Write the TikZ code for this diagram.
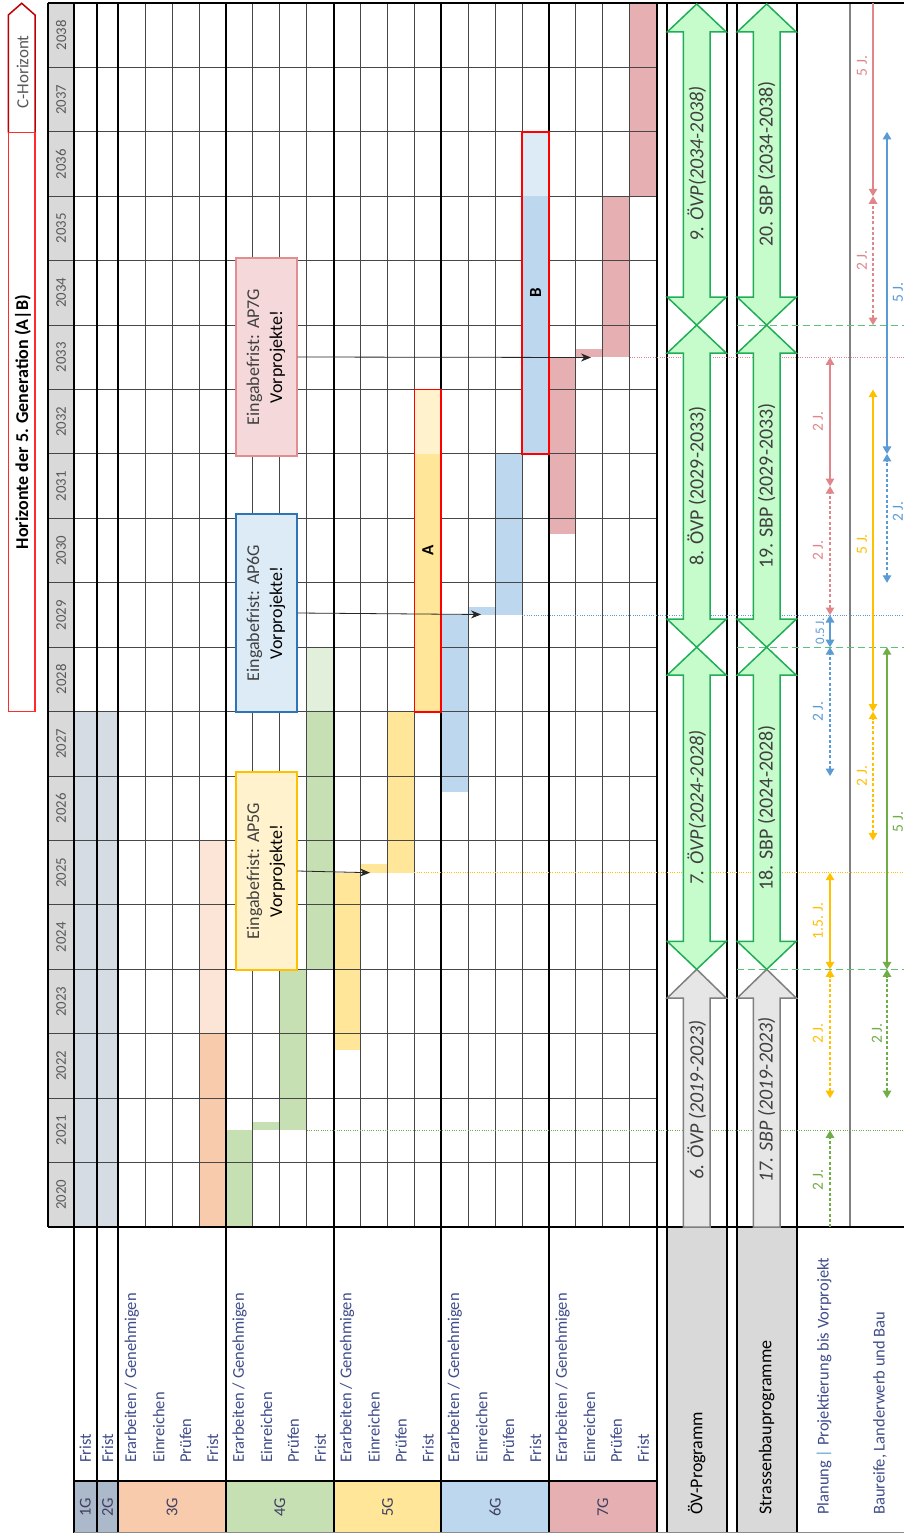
\documentclass[tikz,border=0pt]{standalone}
\usepackage{fontspec}
\setmainfont{Carlito}
\usetikzlibrary{arrows.meta}
\definecolor{yearfill}{HTML}{D9D9D9}
\definecolor{gHdr}{HTML}{ACB9CA}
\definecolor{gShade}{HTML}{D6DCE4}
\definecolor{orD}{HTML}{F8CBAD}
\definecolor{orL}{HTML}{FCE4D6}
\definecolor{grD}{HTML}{C6E0B4}
\definecolor{grL}{HTML}{E2EFDA}
\definecolor{yeD}{HTML}{FFE699}
\definecolor{yeL}{HTML}{FFF2CC}
\definecolor{blD}{HTML}{BDD7EE}
\definecolor{blL}{HTML}{DDEBF7}
\definecolor{piD}{HTML}{E6B0B3}
\definecolor{piBox}{HTML}{F5D8DA}
\definecolor{piBorder}{HTML}{E08E92}
\definecolor{apBlue}{HTML}{2E75B6}
\definecolor{progG}{HTML}{C6FBCB}
\definecolor{progGb}{HTML}{1FAE55}
\definecolor{progGray}{HTML}{E7E6E6}
\definecolor{progGrayb}{HTML}{7F7F7F}
\definecolor{lnP}{HTML}{E0868A}
\definecolor{lnB}{HTML}{5B9BD5}
\definecolor{lnY}{HTML}{FFC000}
\definecolor{lnG}{HTML}{70AD47}
\definecolor{gdash}{HTML}{5CC276}
\definecolor{rowtxt}{HTML}{3F4C8A}
\definecolor{gentxt}{HTML}{404060}
\definecolor{titlered}{HTML}{FF2A2A}
\definecolor{credd}{HTML}{C00000}
\definecolor{yeartxt}{HTML}{595959}

\newcommand{\ganttbar}[4]{\fill[#4] ({rx(#1)},{ty(#3)}) rectangle ({rx(#1+1)},{ty(#2)});}
\newcommand{\progarrow}[4]{%
  \filldraw[#4] (#1,#2) -- ++(29.5,-28) -- ++(-16.2,0) -- (#1+13.3,#3+28) -- ++(16.2,0) -- (#1,#3)
   -- ++(-29.5,28) -- ++(16.2,0) -- (#1-13.3,#2-28) -- ++(-16.2,0) -- cycle;}
\newcommand{\grayarrow}[1]{%
  \filldraw[fill=progGray, draw=progGrayb, line width=1.5pt] (#1-13.3,1227) -- (#1-13.3,998) -- (#1-29.5,998)
   -- (#1,969.3) -- (#1+29.5,998) -- (#1+13.3,998) -- (#1+13.3,1227) -- cycle;}
\newcommand{\grouplabels}[2]{%
  \node[rowlbl] (r#2a) at ({rx(#1)+13.46},1463) {Erarbeiten / Genehmigen};
  \node[rowlbl] (r#2b) at ({rx(#1+1)+13.46},1463) {Einreichen};
  \node[rowlbl] (r#2c) at ({rx(#1+2)+13.46},1463) {Prüfen};
  \node[rowlbl] (r#2d) at ({rx(#1+3)+13.46},1463) {Frist};}

\begin{document}
\begin{tikzpicture}[x=1pt,y=-1pt,
  declare function={ty(\yy)=1227-(\yy-2020)*64.42; rx(\ii)=118.3+\ii*26.92;},
  gthin/.style={draw=black!72, line width=0.95pt},
  gthick/.style={draw=black, line width=1.7pt},
  rowlbl/.style={rotate=90, anchor=west, inner sep=0pt, text=rowtxt, font=\fontsize{16.5}{18}\selectfont},
  genlbl/.style={rotate=90, inner sep=0pt, text=gentxt, font=\fontsize{16.5}{18}\selectfont},
  yearlbl/.style={rotate=90, inner sep=0pt, text=yeartxt, font=\fontsize{14.8}{16}\selectfont},
  collbl/.style={rotate=90, anchor=west, inner sep=0pt, font=\fontsize{18}{20}\selectfont},
  progtxt/.style={rotate=90, inner sep=0pt, text=black!75, font=\fontsize{20}{22}\selectfont},
  apbox/.style={rotate=90, minimum width=198pt, minimum height=61pt, line width=2pt, align=center,
     inner sep=0pt, text=black!75, font=\fontsize{18}{23}\selectfont},
  aparr/.style={draw=black!85, line width=0.8pt, -{Stealth[length=10pt,width=8pt]}},
  boxlbl/.style={rotate=90, inner sep=0pt, font=\bfseries\fontsize{17}{18}\selectfont},
  dotln/.style={line width=1pt, dash pattern=on 1pt off 1.3pt},
  gdashln/.style={draw=gdash, line width=1.2pt, dash pattern=on 7pt off 4pt},
  dimln/.style={line width=1.2pt},
  dsh/.style={dash pattern=on 3pt off 2.2pt},
  bothtips/.style={{Triangle[width=8.5pt,length=7.5pt]}-{Triangle[width=8.5pt,length=7.5pt]}},
  dimlbl/.style={rotate=90, inner sep=0pt, font=\fontsize{15.5}{17}\selectfont}
]
\useasboundingbox (0,0) rectangle (904,1533);
\fill[white] (0,0) rectangle (904,1533);

% ---------- fills ----------
\fill[yearfill] (47.7,3) rectangle (74,1227);
\fill[gShade] (74,{ty(2028)}) rectangle (118.3,1227);
\fill[gHdr] (74,1481) rectangle (118.3,1533);
\fill[orD] ({rx(0)},1481) rectangle ({rx(4)},1533);
\fill[grD] ({rx(4)},1481) rectangle ({rx(8)},1533);
\fill[yeD] ({rx(8)},1481) rectangle ({rx(12)},1533);
\fill[blD] ({rx(12)},1481) rectangle ({rx(16)},1533);
\fill[piD] ({rx(16)},1481) rectangle ({rx(20)},1533);
\fill[yearfill] (666.7,1227) rectangle (726.7,1533);
\fill[yearfill] (736.7,1227) rectangle (796.7,1533);

% 3G
\ganttbar{3}{2020}{2023}{orD}
\ganttbar{3}{2023}{2026}{orL}
% 4G
\ganttbar{4}{2020}{2021.5}{grD}
\ganttbar{5}{2021.5}{2021.63}{grD}
\ganttbar{6}{2021.5}{2024}{grD}
\ganttbar{7}{2024}{2028}{grD}
\ganttbar{7}{2028}{2029}{grL}
% 5G
\ganttbar{8}{2022.75}{2025.5}{yeD}
\ganttbar{9}{2025.5}{2025.63}{yeD}
\ganttbar{10}{2025.5}{2028}{yeD}
% 6G
\ganttbar{12}{2026.75}{2029.5}{blD}
\ganttbar{13}{2029.5}{2029.63}{blD}
\ganttbar{14}{2029.5}{2032}{blD}
% 7G
\ganttbar{16}{2030.75}{2033.5}{piD}
\ganttbar{17}{2033.5}{2033.63}{piD}
\ganttbar{18}{2033.5}{2036}{piD}
\ganttbar{19}{2036}{2039}{piD}

% ---------- grid ----------
\foreach \yr in {2021,...,2038} \draw[gthin] (47.7,{ty(\yr)}) -- (656.7,{ty(\yr)});
\foreach \i in {1,2,3,5,6,7,9,10,11,13,14,15,17,18,19} \draw[gthin] ({rx(\i)},3) -- ({rx(\i)},1227);
\foreach \i in {0,4,...,20} \draw[gthick] ({rx(\i)},3) -- ({rx(\i)},1533);
\draw[gthick] (47.7,3) -- (47.7,1227);
\draw[gthick] (74,3) -- (74,1533);
\draw[gthick] (96.7,3) -- (96.7,1533);
\foreach \xx in {666.7,726.7,736.7,796.7} \draw[gthick] (\xx,3) -- (\xx,1533);
\draw[draw=black!50, line width=1.5pt] (850,3) -- (850,1227);
\draw[gthick] (47.7,3) -- (904,3);
\draw[gthick] (47.7,1227) -- (904,1227);
\draw[gthick] (74,1481) -- (656.7,1481);
\draw[draw=black!45, line width=0.8pt] (74,1532.5) -- (904,1532.5);

% ---------- A / B boxes ----------
\fill[yeD] ({rx(11)},{ty(2032)}) rectangle ({rx(12)},{ty(2028)});
\fill[yeL] ({rx(11)},{ty(2033)}) rectangle ({rx(12)},{ty(2032)});
\draw[red, line width=1.8pt] ({rx(11)},{ty(2033)}) rectangle ({rx(12)},{ty(2028)});
\node[boxlbl] (lblA) at ({rx(11)+13.46},{ty(2030.5)}) {A};
\fill[blD] ({rx(15)},{ty(2036)}) rectangle ({rx(16)},{ty(2032)});
\fill[blL] ({rx(15)},{ty(2037)}) rectangle ({rx(16)},{ty(2036)});
\draw[red, line width=1.8pt] ({rx(15)},{ty(2037)}) rectangle ({rx(16)},{ty(2032)});
\node[boxlbl] (lblB) at ({rx(15)+13.46},{ty(2034.5)}) {B};

% ---------- dotted milestone lines ----------
\draw[dotln, lnG] ({rx(7)},{ty(2021.5)}) -- (904,{ty(2021.5)});
\draw[dotln, lnY] ({rx(11)},{ty(2025.5)}) -- (904,{ty(2025.5)});
\draw[dotln, lnB] ({rx(15)},{ty(2029.5)}) -- (904,{ty(2029.5)});
\draw[dotln, lnP] ({rx(19)},{ty(2033.5)}) -- (904,{ty(2033.5)});
\foreach \t in {2024,2029,2034} \draw[gdashln] (736.7,{ty(\t)}) -- (904,{ty(\t)});

% ---------- AP boxes ----------
\node[apbox, fill=yeL, draw=lnY] (ap5) at (266,871) {Eingabefrist: AP5G\\\textcolor{black}{Vorprojekte!}};
\node[apbox, fill=blL, draw=apBlue] (ap6) at (266,613) {Eingabefrist: AP6G\\\textcolor{black}{Vorprojekte!}};
\node[apbox, fill=piBox, draw=piBorder] (ap7) at (266,357) {Eingabefrist: AP7G\\\textcolor{black}{Vorprojekte!}};
\coordinate (t5) at (370,872.7);
\coordinate (t6) at (481,614.5);
\coordinate (t7) at (591,357.5);
\draw[aparr] (ap5.south) -- (t5);
\draw[aparr] (ap6.south) -- (t6);
\draw[aparr] (ap7.south) -- (t7);

% ---------- programme arrows ----------
\grayarrow{696.7}
\grayarrow{766.7}
\progarrow{696.7}{969.3}{647.2}{fill=progG, draw=progGb, line width=1.5pt}
\progarrow{696.7}{647.2}{325.1}{fill=progG, draw=progGb, line width=1.5pt}
\progarrow{696.7}{325.1}{4}{fill=progG, draw=progGb, line width=1.5pt}
\progarrow{766.7}{969.3}{647.2}{fill=progG, draw=progGb, line width=1.5pt}
\progarrow{766.7}{647.2}{325.1}{fill=progG, draw=progGb, line width=1.5pt}
\progarrow{766.7}{325.1}{4}{fill=progG, draw=progGb, line width=1.5pt}
\node[progtxt, font=\itshape\fontsize{20}{22}\selectfont] (p6) at (696.7,1100) {6. ÖVP (2019-2023)};
\node[progtxt, font=\itshape\fontsize{20}{22}\selectfont] (p17) at (766.7,1100) {17. SBP (2019-2023)};
\node[progtxt, font=\itshape\fontsize{20}{22}\selectfont] (p7) at (696.7,808) {7. ÖVP(2024-2028)};
\node[progtxt] (p18) at (766.7,808) {18. SBP (2024-2028)};
\node[progtxt] (p8) at (696.7,486) {8. ÖVP (2029-2033)};
\node[progtxt] (p19) at (766.7,486) {19. SBP (2029-2033)};
\node[progtxt, font=\itshape\fontsize{20}{22}\selectfont] (p9) at (696.7,164) {9. ÖVP(2034-2038)};
\node[progtxt] (p20) at (766.7,164) {20. SBP (2034-2038)};

% ---------- duration arrows: Planung ----------
\draw[dimln, lnG, dsh, -{Triangle[width=8.5pt,length=7.5pt]}] (830,1227) -- (830,{ty(2021.5)});
\node[dimlbl, text=lnG] (d1) at (818,1180) {2 J.};
\draw[dimln, lnY, dsh, bothtips] (830,{ty(2022)}) -- (830,{ty(2024)});
\node[dimlbl, text=lnY] (d2) at (818,{ty(2023)}) {2 J.};
\draw[dimln, lnY, bothtips] (830,{ty(2024)}) -- (830,{ty(2025.5)});
\node[dimlbl, text=lnY] (d3) at (818,{ty(2024.75)}) {1.5. J.};
\draw[dimln, lnB, dsh, bothtips] (830,{ty(2027)}) -- (830,{ty(2029)});
\node[dimlbl, text=lnB] (d4) at (818,{ty(2028)}) {2 J.};
\draw[dimln, lnB, bothtips] (830,{ty(2029)}) -- (830,{ty(2029.5)});
\node[dimlbl, text=lnB, font=\fontsize{13}{14}\selectfont] (d5) at (820,{ty(2029.25)}) {0.5 J.};
\draw[dimln, lnP, dsh, bothtips] (830,{ty(2029.5)}) -- (830,{ty(2031.5)});
\node[dimlbl, text=lnP] (d6) at (818,{ty(2030.5)}) {2 J.};
\draw[dimln, lnP, bothtips] (830,{ty(2031.5)}) -- (830,{ty(2033.5)});
\node[dimlbl, text=lnP] (d7) at (818,{ty(2032.5)}) {2 J.};

% ---------- duration arrows: Baureife ----------
\draw[dimln, lnY, dsh, bothtips] (873,{ty(2026)}) -- (873,{ty(2028)});
\node[dimlbl, text=lnY] (e1) at (862,{ty(2027)}) {2 J.};
\draw[dimln, lnY, bothtips] (873,{ty(2028)}) -- (873,{ty(2033)});
\node[dimlbl, text=lnY] (e2) at (862,{ty(2030.6)}) {5 J.};
\draw[dimln, lnP, dsh, bothtips] (873,{ty(2034)}) -- (873,{ty(2036)});
\node[dimlbl, text=lnP] (e3) at (862,{ty(2035)}) {2 J.};
\draw[dimln, lnP, {Triangle[width=8.5pt,length=7.5pt]}-] (873,{ty(2036)}) -- (873,3);
\node[dimlbl, text=lnP] (e4) at (862,66) {5 J.};
\draw[dimln, lnG, dsh, bothtips] (887,{ty(2022)}) -- (887,{ty(2024)});
\node[dimlbl, text=lnG] (e5) at (877,{ty(2023)}) {2 J.};
\draw[dimln, lnG, bothtips] (887,{ty(2024)}) -- (887,{ty(2029)});
\node[dimlbl, text=lnG] (e6) at (898,822) {5 J.};
\draw[dimln, lnB, dsh, bothtips] (887,{ty(2030)}) -- (887,{ty(2032)});
\node[dimlbl, text=lnB] (e7) at (898,{ty(2031.1)}) {2 J.};
\draw[dimln, lnB, bothtips] (887,{ty(2032)}) -- (887,{ty(2037)});
\node[dimlbl, text=lnB] (e8) at (898,{ty(2034.5)}) {5 J.};

% ---------- title boxes ----------
\draw[credd, line width=1.5pt, fill=white] (8.3,132.7) -- (8.3,15) -- (21.7,3.3) -- (35,15) -- (35,132.7);
\draw[titlered, line width=1.5pt] (8.3,132.7) rectangle (35,711.7);
\node[rotate=90, inner sep=0pt, font=\bfseries\fontsize{18}{20}\selectfont] (title) at (23,422) {Horizonte der 5. Generation (A|B)};
\node[rotate=90, inner sep=0pt, text=yeartxt, font=\fontsize{17}{19}\selectfont] (chor) at (22.5,72) {C-Horizont};

% ---------- year labels ----------
\foreach \yr in {2020,...,2038} \node[yearlbl] (y\yr) at (61,{ty(\yr+0.5)}) {\yr};

% ---------- row labels ----------
\node[rowlbl] (r1) at (85.3,1463) {Frist};
\node[rowlbl] (r2) at (107.5,1463) {Frist};
\grouplabels{0}{3}
\grouplabels{4}{4}
\grouplabels{8}{5}
\grouplabels{12}{6}
\grouplabels{16}{7}

% ---------- generation labels ----------
\node[genlbl] (g1) at (85.3,1507) {1G};
\node[genlbl] (g2) at (107.5,1507) {2G};
\node[genlbl] (g3) at ({rx(2)},1507) {3G};
\node[genlbl] (g4) at ({rx(6)},1507) {4G};
\node[genlbl] (g5) at ({rx(10)},1507) {5G};
\node[genlbl] (g6) at ({rx(14)},1507) {6G};
\node[genlbl] (g7) at ({rx(18)},1507) {7G};

% ---------- programme column labels ----------
\node[collbl] (ov) at (696.7,1515) {ÖV-Programm};
\node[collbl] (sb) at (766.7,1515) {Strassenbauprogramme};
\node[rowlbl] (pl) at (824,1515) {Planung {\color{lnB}|} Projektierung bis Vorprojekt};
\node[rowlbl] (br) at (880,1515) {Baureife, Landerwerb und Bau};
\end{tikzpicture}
\end{document}
